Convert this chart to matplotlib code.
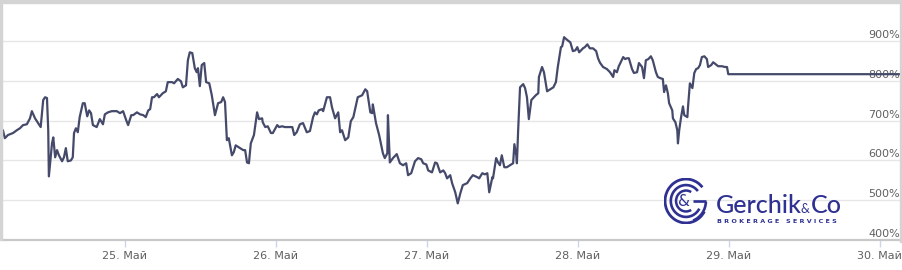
import matplotlib
matplotlib.use("Agg")
import matplotlib.pyplot as plt
import matplotlib.transforms as mtransforms
from matplotlib.patches import Rectangle, Arc

# ---- data: hours since 25 May 00:00, equity in % ----
hours = [
    -19.9, -19.4, -19.1, -18.6, -17.8, -17.2, -16.7, -16.2, -15.6, -15.1,
    -14.8, -14.3, -13.8, -13.4, -13.0, -12.7, -12.4, -12.2, -12.1, -11.6,
    -11.4, -11.1, -10.8, -10.5, -10.0, -9.7, -9.4, -9.1, -8.6, -8.3,
    -8.1, -7.8, -7.5, -7.2, -6.7, -6.4, -6.0, -5.7, -5.4, -5.1,
    -4.5, -4.0, -3.5, -3.2, -2.7, -2.1, -1.3, -0.8, -0.3, 0.2,
    0.5, 1.0, 1.3, 1.9, 2.4, 2.9, 3.3, 3.7,
    4.0, 4.3, 4.6, 5.1, 5.4, 6.0, 6.5, 6.8, 7.5, 7.8,
    8.4, 8.9, 9.2, 9.7, 10.0, 10.3, 10.7, 11.1, 11.4, 11.6,
    11.9, 12.2, 12.6, 12.9, 13.4, 13.8, 14.3, 14.8, 15.3, 15.6,
    15.9, 16.2, 16.5, 17.0, 17.3, 17.6, 18.1, 18.8, 19.1, 19.4,
    19.7, 20.0, 20.5, 21.0, 21.3, 21.8, 21.9, 22.3, 22.7, 23.2,
    23.5, 24.2, 24.5, 25.0, 25.4, 25.9, 26.6, 26.9, 27.3,
    27.8, 28.3, 28.9, 29.4, 29.9, 30.2, 30.5, 30.8, 31.3, 31.5,
    32.1, 32.6, 32.9, 33.4, 33.9, 34.2, 34.5, 35.0, 35.5, 35.9,
    36.3, 37.0, 37.7, 38.2, 38.5, 39.0, 39.3, 39.4, 39.9, 40.4,
    41.0, 41.3, 41.7, 41.8, 42.1, 42.6, 43.2, 43.7, 44.2, 44.7,
    45.0, 45.5, 46.1, 46.6, 47.1, 47.4, 47.9, 48.2, 48.8, 49.3,
    49.6, 50.1, 50.6, 50.9, 51.2, 51.7,
    52.0, 52.5, 52.9, 53.3, 53.7, 54.4, 54.9, 55.3, 56.0, 56.3,
    56.8, 57.2, 57.6, 57.9, 58.4, 58.5, 59.0, 59.3, 59.6, 59.9,
    60.3, 60.7, 61.2, 61.7, 61.9, 62.2, 62.3, 62.5, 62.8, 63.3,
    63.6, 63.9, 64.2, 64.6, 64.9, 65.3, 65.7, 65.8, 66.3, 66.6,
    67.1, 67.6, 68.1, 68.5, 68.8, 69.3, 69.5, 69.8, 70.3, 70.8,
    71.2, 71.6, 71.9, 72.2, 72.8, 73.1, 73.5, 73.9, 74.4, 74.9,
    75.2, 75.5,
    76.0, 76.6, 77.1, 77.6, 77.8, 78.2, 78.5, 79.2, 79.5, 79.8,
    80.1, 80.6, 80.9, 81.4, 81.7, 82.2, 82.5, 82.8, 83.2, 83.6,
    83.9, 84.4, 84.7, 85.1, 85.5, 85.7, 86.0, 86.3, 86.5, 87.0,
    87.1, 87.5, 87.8, 87.9, 88.1, 88.4, 88.7, 88.9, 89.4, 89.5,
    89.8, 90.2, 90.5, 90.8, 91.1, 91.4, 91.7, 92.1, 92.5, 92.7,
    93.2, 93.5, 93.9, 94.3, 94.9, 95.4, 95.7, 95.9, 124.0,
]
equity = [
    678, 676, 656, 664, 669, 676, 681, 689, 691, 706,
    724, 706, 694, 684, 752, 759, 757, 676, 560, 643,
    658, 608, 626, 613, 598, 608, 631, 598, 600, 608,
    669, 681, 671, 709, 744, 744, 711, 726, 719, 689,
    684, 704, 691, 716, 721, 724, 724, 719, 724, 701,
    689, 714, 714, 721, 716, 714, 709, 726,
    729, 759, 759, 767, 759, 769, 774, 797, 797, 794,
    805, 799, 784, 789, 852, 872, 870, 832, 822, 832,
    787, 840, 845, 797, 794, 764, 714, 744, 747, 759,
    747, 651, 656, 613, 621, 638, 633, 626, 626, 595,
    593, 643, 664, 721, 704, 706, 696, 684, 686, 669,
    669, 689, 684, 686, 684, 684, 684, 664, 671,
    691, 694, 671, 674, 709, 721, 716, 726, 729, 724,
    759, 759, 734, 706, 721, 671, 676, 651, 658, 699,
    709, 759, 764, 779, 774, 721, 719, 741, 694, 664,
    618, 606, 618, 714, 595, 606, 616, 593, 588, 593,
    563, 568, 598, 606, 603, 593, 590, 575, 570, 595,
    593, 570, 575, 568, 555, 563,
    543, 520, 492, 517, 538, 543, 555, 563, 558, 555,
    568, 565, 568, 520, 558, 555, 606, 595, 588, 613,
    583, 583, 588, 593, 641, 613, 593, 676, 784, 792,
    782, 759, 704, 752, 757, 764, 769, 810, 835, 822,
    774, 779, 784, 797, 835, 885, 887, 910, 903, 897,
    875, 877, 885, 872, 882, 885, 892, 882, 882, 875,
    857, 846,
    835, 830, 822, 810, 827, 822, 837, 860, 855, 857,
    857, 830, 820, 822, 845, 835, 807, 852, 855, 862,
    852, 822, 810, 807, 805, 772, 789, 769, 744, 726,
    706, 696, 676, 643, 676, 709, 736, 714, 709, 734,
    794, 782, 820, 830, 832, 840, 860, 862, 855, 835,
    840, 847, 842, 837, 837, 835, 835, 817, 817,
]
tick_hours = [0, 24, 48, 72, 96, 120]
tick_labels = ["25. Май", "26. Май", "27. Май", "28. Май", "29. Май", "30. Май"]
y_levels = [400, 500, 600, 700, 800, 900]
y_labels = ["400%", "500%", "600%", "700%", "800%", "900%"]

W, H = 903, 270
fig = plt.figure(figsize=(W / 100, H / 100), dpi=100)
fig.patch.set_facecolor("white")

ax = fig.add_axes([2 / W, 30 / H, 898 / W, 237 / H])
ax.set_facecolor("white")
ax.set_xlim(-19.55, 123.2)
ax.set_ylim(400, 996)

grid_col = "#e6e6e6"
for lv in y_levels[1:]:
    ax.axhline(lv, color=grid_col, lw=1.0, zorder=1)

for s in ["top", "left", "right"]:
    ax.spines[s].set_visible(False)
ax.spines["bottom"].set_color("#c8c8c8")
ax.spines["bottom"].set_linewidth(1.6)

ax.set_yticks([])
ax.set_xticks(tick_hours)
ax.set_xticklabels(tick_labels)
ax.tick_params(axis="x", length=5, width=1, color="#ccd6eb",
               labelcolor="#606060", labelsize=8, pad=3)

offs = mtransforms.offset_copy(ax.transData, fig=fig, x=0, y=6, units="dots")
blend = mtransforms.blended_transform_factory(ax.transAxes, offs)
for lv, lb in zip(y_levels, y_labels):
    ax.text(1.0, lv, lb, transform=blend, ha="right", va="center",
            fontsize=8, color="#606060", zorder=2, clip_on=False)

ax.plot(hours, equity, color="#454a6b", lw=1.6, zorder=3,
        solid_joinstyle="round")

# ---- frame ----
fc = "#d4d4d4"
fig.patches.append(Rectangle((0, H - 3), W, 3, transform=None, color=fc, zorder=10))
fig.patches.append(Rectangle((0, 30), 2, H - 30, transform=None, color=fc, zorder=10))
fig.patches.append(Rectangle((W - 3, 28), 3, H - 28, transform=None, color=fc, zorder=10))

# ---- logo ----
navy = "#2e3192"
lax = fig.add_axes([664 / W, (H - 224) / H, 44 / W, 46 / H])
lax.set_xlim(-1.05, 1.05)
lax.set_ylim(-1.1, 1.1)
lax.axis("off")
for r, lw in [(2.0, 2.0), (1.45, 1.9)]:
    lax.add_patch(Arc((0, 0), r, r * 1.05, theta1=40, theta2=330,
                      color=navy, lw=lw))
lax.add_patch(Arc((0, 0), 0.95, 1.0, theta1=60, theta2=300, color=navy, lw=1.8))
lax.plot([0.35, 0.95], [-0.02, -0.02], color=navy, lw=1.9, solid_capstyle="butt")
lax.add_patch(Arc((0, 0), 1.9, 2.0, theta1=290, theta2=358, color=navy, lw=1.9))
lax.text(-0.08, -0.02, "&", ha="center", va="center", fontsize=11,
         color=navy, family="DejaVu Sans")

fig.text(716 / W, (H - 213) / H, "Gerchik", fontsize=18, color=navy,
         family="Lato", fontweight="medium", ha="left", va="baseline")
fig.text(801 / W, (H - 213) / H, "&", fontsize=9, color=navy,
         family="Lato", ha="left", va="baseline")
fig.text(811 / W, (H - 213) / H, "Co", fontsize=18, color=navy,
         family="Lato", fontweight="medium", ha="left", va="baseline")
fig.text(717 / W, (H - 223) / H, "B R O K E R A G E   S E R V I C E S",
         fontsize=4.55, color=navy, family="DejaVu Sans", fontweight="bold",
         ha="left", va="baseline")

fig.savefig("out.png", dpi=100, facecolor="white")
